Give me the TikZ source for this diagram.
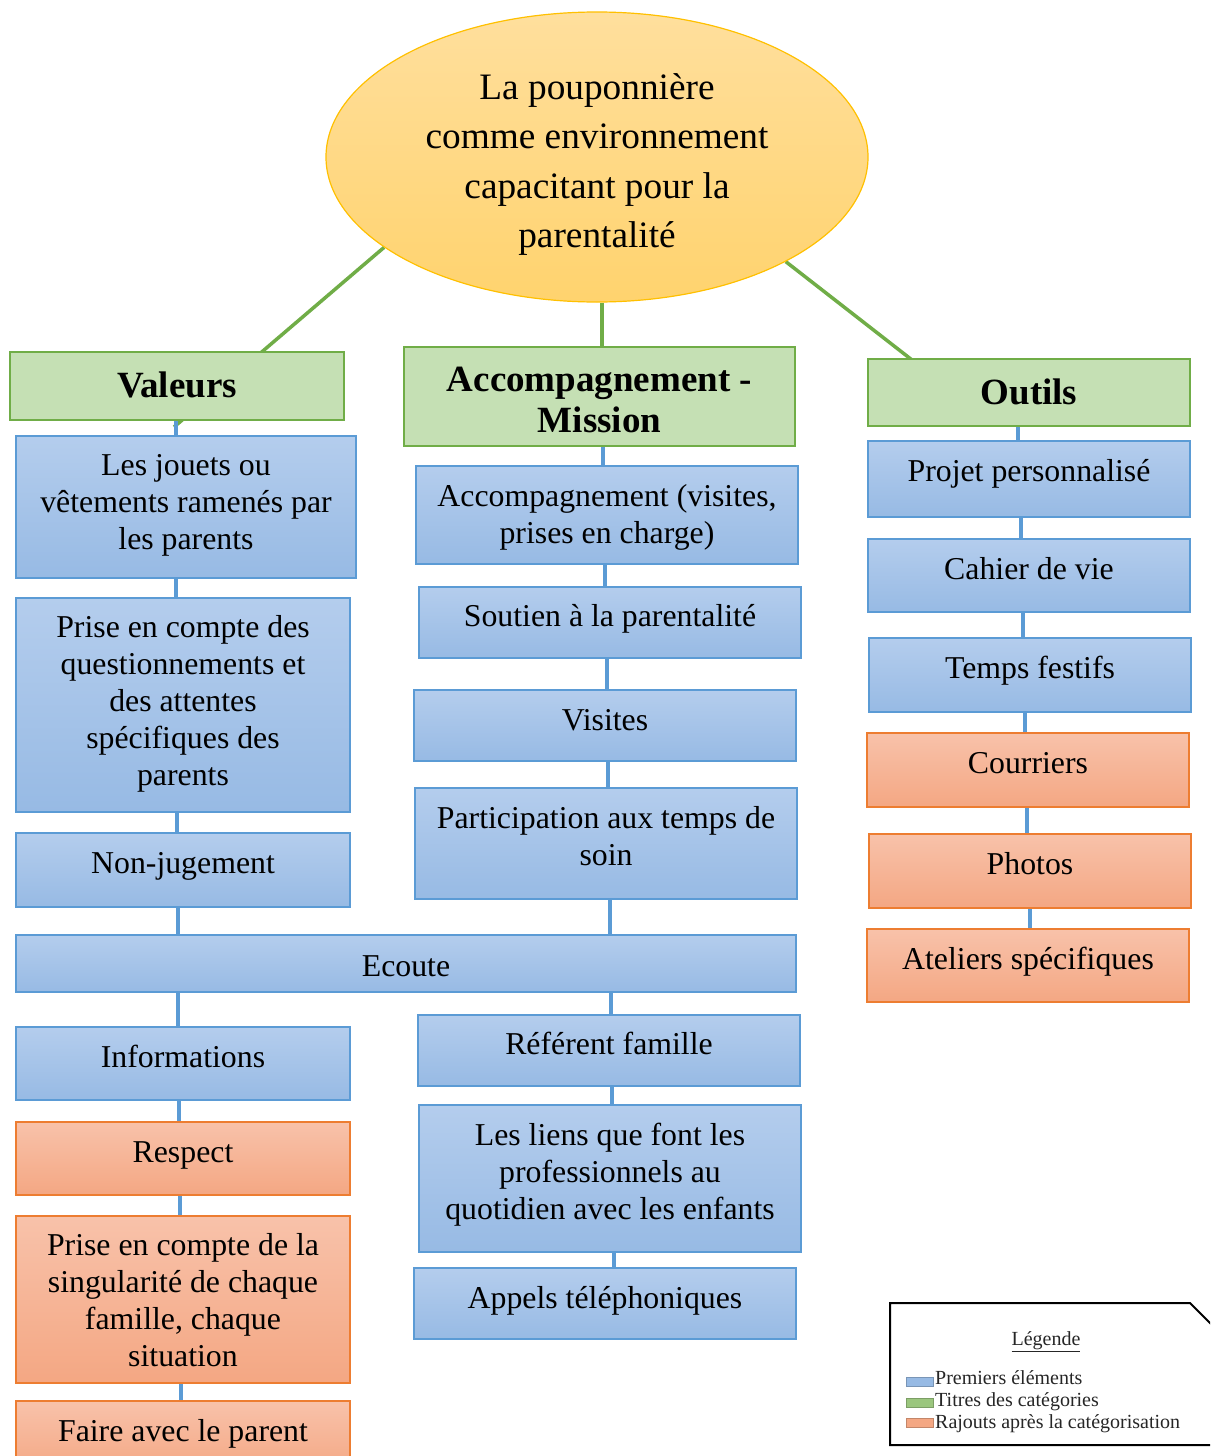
\documentclass[tikz,border=0pt]{standalone}
\usepackage{fontspec}
\setmainfont{Liberation Serif}
\usetikzlibrary{shapes.geometric,backgrounds}
\definecolor{bluetop}{RGB}{180,205,237}
\definecolor{bluebot}{RGB}{151,186,228}
\definecolor{bluebord}{RGB}{91,155,213}
\definecolor{ortop}{RGB}{248,194,170}
\definecolor{orbot}{RGB}{244,167,131}
\definecolor{orbord}{RGB}{237,125,49}
\definecolor{grfill}{RGB}{197,224,180}
\definecolor{grbord}{RGB}{112,173,71}
\definecolor{eltop}{RGB}{255,223,157}
\definecolor{elbot}{RGB}{255,211,110}
\definecolor{elbord}{RGB}{255,192,0}
\newcommand\up[2][6.5pt]{\raisebox{\dimexpr#1-3.5pt\relax}[\height][\depth]{\begin{tabular}{@{}c@{}}#2\end{tabular}}}
\tikzset{
  bbox/.style={draw=bluebord, line width=1.3pt, top color=bluetop, bottom color=bluebot,
    inner sep=0pt, font=\fontsize{31.8}{37}\selectfont},
  obox/.style={draw=orbord, line width=1.3pt, top color=ortop, bottom color=orbot,
    inner sep=0pt, font=\fontsize{31.8}{37}\selectfont},
  gbox/.style={draw=grbord, line width=1.3pt, fill=grfill,
    inner sep=0pt, font=\bfseries\fontsize{37}{41}\selectfont},
  bl/.style={line width=4pt, draw=bluebord},
  gl/.style={line width=3.5pt, draw=grbord},
  lgsq/.style={draw=#1!80!black, line width=0.5pt, fill=#1, minimum width=27pt, minimum height=9pt, inner sep=0pt},
  lgtxt/.style={anchor=base west, inner sep=0pt, text=black!85, font=\fontsize{20}{22}\selectfont},
}
\begin{document}
\begin{tikzpicture}[x=1pt,y=-1pt]
\useasboundingbox (0,0) rectangle (1210,1456);
\clip (0,0) rectangle (1210,1456);

% central ellipse
\node[ellipse, draw=elbord, line width=1.2pt, top color=eltop, bottom color=elbot,
  minimum width=542pt, minimum height=290pt, inner sep=0pt,
  font=\fontsize{37.3}{49.3}\selectfont] (ell) at (597,157)
  {\up[-3pt]{La pouponnière\\comme environnement\\capacitant pour la\\parentalité}};

% category titles
\node[gbox, minimum width=334pt, minimum height=68pt] (tv) at (177,386) {\up[0pt]{Valeurs}};
\node[gbox, minimum width=391pt, minimum height=99pt] (ta) at (599.5,396.5) {\up[-4pt]{Accompagnement -\\Mission}};
\node[gbox, minimum width=322pt, minimum height=67pt] (to) at (1029,392.5) {\up[0pt]{Outils}};

% left column
\node[bbox, minimum width=340pt, minimum height=142pt] (v1) at (186,507) {\up[5pt]{Les jouets ou\\vêtements ramenés par\\les parents}};
\node[bbox, minimum width=334pt, minimum height=214pt] (v2) at (183,705) {\up[4pt]{Prise en compte des\\questionnements et\\des attentes\\spécifiques des\\parents}};
\node[bbox, minimum width=334pt, minimum height=74pt] (v3) at (183,870) {\up[7pt]{Non-jugement}};
\node[bbox, minimum width=780pt, minimum height=57pt] (ec) at (406,963.5) {\up[-2.5pt]{Ecoute}};
\node[bbox, minimum width=334pt, minimum height=73pt] (v4) at (183,1063.5) {\up{Informations}};
\node[obox, minimum width=334pt, minimum height=73pt] (v5) at (183,1158.5) {\up{Respect}};
\node[obox, minimum width=334pt, minimum height=167pt] (v6) at (183,1299.5) {\up[-1pt]{Prise en compte de la\\singularité de chaque\\famille, chaque\\situation}};
\node[obox, minimum width=334pt, minimum height=73pt] (v7) at (183,1437.5) {\up{Faire avec le parent}};

% middle column
\node[bbox, minimum width=382pt, minimum height=98pt] (m1) at (607,515) {\up[0.5pt]{Accompagnement (visites,\\prises en charge)}};
\node[bbox, minimum width=382pt, minimum height=71pt] (m2) at (610,622.5) {\up{Soutien à la parentalité}};
\node[bbox, minimum width=382pt, minimum height=71pt] (m3) at (605,725.5) {\up[5.5pt]{Visites}};
\node[bbox, minimum width=382pt, minimum height=111pt] (m4) at (606,843.5) {\up[7.5pt]{Participation aux temps de\\soin}};
\node[bbox, minimum width=382pt, minimum height=71pt] (m5) at (609,1050.5) {\up{Référent famille}};
\node[bbox, minimum width=382pt, minimum height=147pt] (m6) at (610,1178.5) {\up{Les liens que font les\\professionnels au\\quotidien avec les enfants}};
\node[bbox, minimum width=382pt, minimum height=71pt] (m7) at (605,1303.5) {\up[5.5pt]{Appels téléphoniques}};

% right column
\node[bbox, minimum width=322pt, minimum height=76pt] (o1) at (1029,479) {\up[8pt]{Projet personnalisé}};
\node[bbox, minimum width=322pt, minimum height=73pt] (o2) at (1029,575.5) {\up{Cahier de vie}};
\node[bbox, minimum width=322pt, minimum height=74pt] (o3) at (1030,675) {\up[7pt]{Temps festifs}};
\node[obox, minimum width=322pt, minimum height=74pt] (o4) at (1028,770) {\up[7pt]{Courriers}};
\node[obox, minimum width=322pt, minimum height=74pt] (o5) at (1030,871) {\up[7pt]{Photos}};
\node[obox, minimum width=322pt, minimum height=73pt] (o6) at (1028,965.5) {\up{Ateliers spécifiques}};

\begin{scope}[on background layer]
  \fill[white] (0,0) rectangle (1210,1456);
  % green connectors
  \coordinate (gv) at (174,427);
  \coordinate (go) at (930,374);
  \draw[gl] (ell.203) -- (gv);
  \draw[gl] (ell.-29) -- (go);
  \draw[gl] ([xshift=5pt]ell.south) -- ([xshift=5pt]ell.south |- ta.north);
  % left column
  \draw[bl] (tv.south -| 176,0) -- (v1.north -| 176,0);
  \draw[bl] (v1.south -| 176,0) -- (v2.north -| 176,0);
  \draw[bl] (v2.south -| 177,0) -- (v3.north -| 177,0);
  \draw[bl] (v3.south -| 178,0) -- (ec.north -| 178,0);
  \draw[bl] (ec.south -| 178,0) -- (v4.north -| 178,0);
  \draw[bl] (v4.south -| 179,0) -- (v5.north -| 179,0);
  \draw[bl] (v5.south -| 180,0) -- (v6.north -| 180,0);
  \draw[bl] (v6.south -| 181,0) -- (v7.north -| 181,0);
  % middle column
  \draw[bl] (ta.south -| 603,0) -- (m1.north -| 603,0);
  \draw[bl] (m1.south -| 605,0) -- (m2.north -| 605,0);
  \draw[bl] (m2.south -| 607,0) -- (m3.north -| 607,0);
  \draw[bl] (m3.south -| 608,0) -- (m4.north -| 608,0);
  \draw[bl] (m4.south -| 610,0) -- (ec.north -| 610,0);
  \draw[bl] (ec.south -| 611,0) -- (m5.north -| 611,0);
  \draw[bl] (m5.south -| 612,0) -- (m6.north -| 612,0);
  \draw[bl] (m6.south -| 614,0) -- (m7.north -| 614,0);
  % right column
  \draw[bl] (to.south -| 1018,0) -- (o1.north -| 1018,0);
  \draw[bl] (o1.south -| 1021,0) -- (o2.north -| 1021,0);
  \draw[bl] (o2.south -| 1023,0) -- (o3.north -| 1023,0);
  \draw[bl] (o3.south -| 1025,0) -- (o4.north -| 1025,0);
  \draw[bl] (o4.south -| 1027,0) -- (o5.north -| 1027,0);
  \draw[bl] (o5.south -| 1030,0) -- (o6.north -| 1030,0);
\end{scope}

% legend
\draw[line width=2pt, fill=white] (890,1303) -- (1190,1303) -- (1232,1345) -- (1232,1445) -- (890,1445) -- cycle;
\node[inner sep=0pt, anchor=base, text=black!85, font=\fontsize{20}{22}\selectfont] (lt) at (1046,1345) {\underline{Légende}};
\node[lgsq=bluebot] (lsb) at (919.5,1382) {};
\node[lgsq=grbord!70!white] (lsg) at (919.5,1403) {};
\node[lgsq=orbot] (lso) at (919.5,1423) {};
\node[lgtxt] (ltb) at (935,1384) {Premiers éléments};
\node[lgtxt] (ltg) at (935,1406) {Titres des catégories};
\node[lgtxt] (lto) at (935,1428) {Rajouts après la catégorisation};
\end{tikzpicture}
\end{document}
